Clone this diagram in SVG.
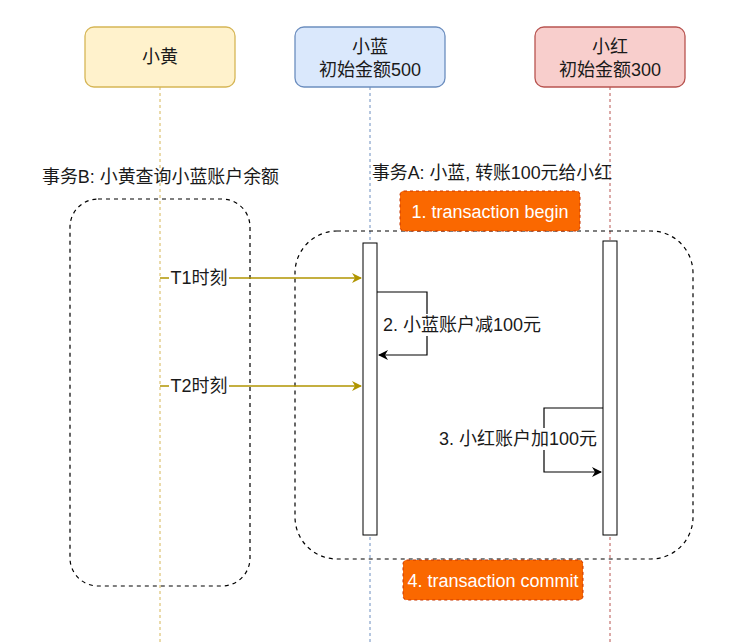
<svg xmlns="http://www.w3.org/2000/svg" width="751" height="643" viewBox="0 0 751 643">
<style>
text{font-family:"Liberation Sans","Noto Sans CJK SC",sans-serif;font-size:18px;fill:#1a1a1a}
.hdr{stroke-width:1.3}
.life{fill:none;stroke-width:1;stroke-dasharray:3 3}
.grp{fill:none;stroke:#000;stroke-width:1.2;stroke-dasharray:4 4}
.bar{fill:#fff;stroke:#000;stroke-width:1}
.msg{fill:none;stroke:#b09500;stroke-width:1.3}
.self{fill:none;stroke:#000;stroke-width:1.2}
.tag{fill:#fa6800;stroke:#c73500;stroke-dasharray:3 3;stroke-width:1}
.tagt{fill:#ffffff}
</style>
<defs>
<marker id="ay" viewBox="0 0 10 10" refX="9" refY="5" markerWidth="10" markerHeight="10" markerUnits="userSpaceOnUse" orient="auto"><path d="M0,0 L10,5 L0,10 L3,5 Z" fill="#b09500"/></marker>
<marker id="ab" viewBox="0 0 10 10" refX="9" refY="5" markerWidth="10" markerHeight="10" markerUnits="userSpaceOnUse" orient="auto"><path d="M0,0 L10,5 L0,10 L3,5 Z" fill="#000"/></marker>
</defs>
<rect width="751" height="643" fill="#fff"/>
<g id="lifelines">
<line class="life" x1="160" y1="87" x2="160" y2="643" stroke="#d6b656"/>
<line class="life" x1="370" y1="87" x2="370" y2="643" stroke="#6c8ebf"/>
<line class="life" x1="610" y1="87" x2="610" y2="643" stroke="#b85450"/>
</g>
<g id="groupB"><rect class="grp" x="70" y="199" width="180" height="387" rx="28"/><text x="42" y="183" textLength="237" lengthAdjust="spacingAndGlyphs">事务B: 小黄查询小蓝账户余额</text></g>
<g id="groupA"><rect class="grp" x="295" y="231" width="398" height="328" rx="42"/><text x="372" y="179" textLength="240" lengthAdjust="spacingAndGlyphs">事务A: 小蓝, 转账100元给小红</text></g>
<g id="xiaohuang"><rect class="hdr" x="85" y="27" width="150" height="60" rx="9" fill="#fff2cc" stroke="#d6b656"/><text x="160" y="63" text-anchor="middle">小黄</text></g>
<g id="xiaolan"><rect class="hdr" x="295" y="27" width="150" height="60" rx="9" fill="#dae8fc" stroke="#6c8ebf"/><text x="370" y="53" text-anchor="middle">小蓝</text><text x="370" y="76" text-anchor="middle">初始金额500</text></g>
<g id="xiaohong"><rect class="hdr" x="535" y="27" width="150" height="60" rx="9" fill="#f8cecc" stroke="#b85450"/><text x="610" y="53" text-anchor="middle">小红</text><text x="610" y="76" text-anchor="middle">初始金额300</text></g>
<g id="barLan"><rect class="bar" x="363" y="243" width="14" height="292"/></g>
<g id="barHong"><rect class="bar" x="603" y="241" width="14" height="294"/></g>
<g id="begin"><rect class="tag" x="400" y="191" width="180" height="40" rx="4"/><text class="tagt" x="490" y="218" text-anchor="middle">1. transaction begin</text></g>
<g id="commit"><rect class="tag" x="403" y="560" width="180" height="40" rx="4"/><text class="tagt" x="493" y="587" text-anchor="middle">4. transaction commit</text></g>
<g id="connectors">
<line class="msg" x1="160" y1="278" x2="361" y2="278" marker-end="url(#ay)"/>
<rect x="169" y="268" width="60" height="20" fill="#fff"/>
<text x="199" y="284" text-anchor="middle">T1时刻</text>
<line class="msg" x1="160" y1="386" x2="361" y2="386" marker-end="url(#ay)"/>
<rect x="169" y="376" width="60" height="20" fill="#fff"/>
<text x="199" y="392" text-anchor="middle">T2时刻</text>
<path class="self" d="M377,292 H427 V355 H379" marker-end="url(#ab)"/>
<rect x="382" y="314" width="160" height="22" fill="#fff"/>
<text x="462" y="331" text-anchor="middle">2. 小蓝账户减100元</text>
<path class="self" d="M603,408 H544 V472 H601" marker-end="url(#ab)"/>
<rect x="437" y="428" width="161" height="22" fill="#fff"/>
<text x="597" y="445" text-anchor="end">3. 小红账户加100元</text>
</g>
</svg>
